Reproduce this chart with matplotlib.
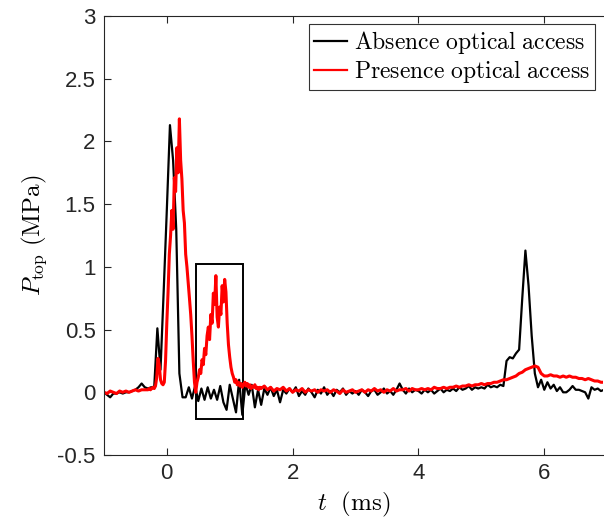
import numpy as np
import matplotlib
matplotlib.use('Agg')
import matplotlib.pyplot as plt
from matplotlib.patches import Rectangle

plt.rcParams['mathtext.fontset'] = 'cm'
plt.rcParams['axes.unicode_minus'] = False
plt.rcParams['font.family'] = ['Liberation Sans', 'DejaVu Sans']

# absence optical access, sampled every 0.05 ms from -1 ms
t0_black = -1.0
dt_black = 0.05
p_black = [
    0.00, -0.02, -0.04, -0.01, -0.01, 0.00, -0.01, 0.00, 0.00, 0.01,
    0.02, 0.04, 0.07, 0.04, 0.03, 0.04, 0.04, 0.51, 0.18, 0.80,
    1.45, 2.13, 1.85, 1.30, 0.15, -0.04, -0.04, 0.04, -0.05, 0.05,
    -0.07, 0.03, -0.06, 0.04, -0.05, 0.02, -0.06, 0.05, -0.08, -0.14,
    0.06, -0.05, -0.16, 0.10, -0.18, 0.07, -0.02, 0.06, -0.12, 0.02,
    -0.10, 0.03, -0.02, 0.04, -0.03, 0.02, -0.08, 0.02, -0.01, 0.03,
    0.00, 0.04, -0.03, 0.01, -0.02, 0.03, 0.00, -0.04, 0.02, -0.01,
    0.04, -0.02, 0.01, -0.03, 0.02, 0.00, 0.03, -0.02, 0.01, -0.01,
    0.01, -0.02, 0.02, 0.00, -0.03, 0.01, 0.02, -0.02, 0.00, 0.03,
    -0.01, 0.01, -0.02, 0.02, 0.07, 0.02, -0.01, 0.03, 0.00, 0.02,
    0.01, -0.01, 0.02, 0.00, 0.02, -0.01, 0.01, 0.03, 0.00, 0.02,
    0.01, 0.03, 0.01, 0.04, 0.02, 0.03, 0.05, 0.02, 0.04, 0.03,
    0.04, 0.03, 0.06, 0.04, 0.05, 0.04, 0.06, 0.05, 0.25, 0.28,
    0.27, 0.31, 0.34, 0.75, 1.13, 0.85, 0.45, 0.15, 0.04, 0.10,
    0.02, 0.08, 0.03, 0.06, 0.01, 0.04, 0.00, 0.00, 0.02, 0.05,
    0.02, 0.02, 0.01, 0.00, -0.05, 0.04, 0.02, 0.03, 0.01, 0.02,
]

# presence optical access: coarse start, fine burst (0.02 ms), coarse tail
t0_red_early = -1.0
red_early = [0.00, -0.01, 0.01, 0.00, -0.01, 0.01, 0.00, 0.01, 0.00, 0.01,
             0.02, 0.01, 0.02, 0.02]
t0_red_burst = -0.30
red_burst = [
    0.02, 0.03, 0.02, 0.03, 0.04, 0.03, 0.05, 0.12, 0.27, 0.22,
    0.10, 0.07, 0.06, 0.08, 0.25, 0.55, 0.80, 1.10, 1.25, 1.45,
    1.30, 1.71, 1.60, 1.95, 1.75, 2.18, 1.85, 1.70, 1.45, 1.35,
    1.10, 1.00, 0.88, 0.75, 0.62, 0.45, 0.25, 0.08, 0.00, 0.08,
    0.12, 0.18, 0.15, 0.26, 0.22, 0.35, 0.30, 0.45, 0.52, 0.42,
    0.62, 0.55, 0.79, 0.70, 0.93, 0.60, 0.52, 0.68, 0.62, 0.85,
    0.72, 0.90, 0.80, 0.55, 0.38, 0.28, 0.20, 0.15, 0.12, 0.08,
    0.10, 0.06, 0.08, 0.05, 0.07, 0.04, 0.06, 0.08, 0.05, 0.07,
    0.04, 0.06, 0.03, 0.05, 0.04, 0.06, 0.03, 0.04, 0.02, 0.04,
]
t0_red_late = 1.50
red_late = [
    0.03, 0.05, 0.02, 0.04, 0.01, 0.03, 0.02, 0.04, 0.01, 0.03,
    0.00, 0.02, 0.01, 0.03, 0.00, 0.02, 0.01, 0.02, 0.00, 0.02,
    0.01, 0.02, 0.00, 0.02, 0.01, -0.01, 0.02, 0.00, 0.01, 0.02,
    0.00, 0.01, 0.02, 0.00, 0.02, 0.01, 0.03, 0.01, 0.02, 0.00,
    0.02, 0.01, 0.03, 0.01, 0.02, 0.02, 0.03, 0.01, 0.03, 0.02,
    0.02, 0.03, 0.02, 0.03, 0.02, 0.04, 0.03, 0.03, 0.04, 0.03,
    0.04, 0.04, 0.05, 0.04, 0.05, 0.05, 0.06, 0.05, 0.06, 0.06,
    0.07, 0.06, 0.07, 0.07, 0.08, 0.08, 0.09, 0.10, 0.10, 0.11,
    0.12, 0.13, 0.15, 0.16, 0.18, 0.19, 0.20, 0.21, 0.20, 0.15,
    0.13, 0.13, 0.14, 0.13, 0.13, 0.12, 0.13, 0.12, 0.13, 0.12,
    0.12, 0.11, 0.11, 0.10, 0.11, 0.10, 0.09, 0.09, 0.08, 0.08,
]

# highlighted window (ms, MPa)
box_t = [0.46, 1.21]
box_p = [-0.21, 1.02]

yticks = [-0.5, 0, 0.5, 1, 1.5, 2, 2.5, 3]
xticks = [0, 2, 4, 6]

t_black = t0_black + dt_black * np.arange(len(p_black))
t_red = np.concatenate([
    t0_red_early + 0.05 * np.arange(len(red_early)),
    t0_red_burst + 0.02 * np.arange(len(red_burst)),
    t0_red_late + 0.05 * np.arange(len(red_late)),
])
p_red = np.concatenate([red_early, red_burst, red_late])

fig = plt.figure(figsize=(6.04, 5.30), dpi=100)
ax = fig.add_axes([0.172, 0.1415, 0.826, 0.8283])

ax.plot(t_black, p_black, color='k', lw=1.6,
        label=r'$\mathrm{Absence\ optical\ access}$')
ax.plot(t_red, p_red, color='r', lw=2.2,
        label=r'$\mathrm{Presence\ optical\ access}$')
ax.add_patch(Rectangle((box_t[0], box_p[0]), box_t[1] - box_t[0], box_p[1] - box_p[0],
                       fill=False, ec='k', lw=1.4))

ax.set_xlim(-1, 6.93)
ax.set_ylim(-0.5, 3)
ax.set_xticks(xticks)
ax.set_yticks(yticks)
ax.set_yticklabels(['-0.5', '0', '0.5', '1', '1.5', '2', '2.5', '3'])
ax.tick_params(direction='in', length=5, width=0.8, labelsize=16,
               colors='#262626', top=True, right=False, pad=6)
for s in ['left', 'top', 'bottom']:
    ax.spines[s].set_color('#262626')
    ax.spines[s].set_linewidth(0.8)
ax.spines['right'].set_visible(False)

ax.set_xlabel(r'$t\ \ \mathrm{(ms)}$', fontsize=18, labelpad=4)
ax.set_ylabel(r'$P_{\mathrm{top}}\ \mathrm{(MPa)}$', fontsize=18, labelpad=6)

leg = ax.legend(loc='upper right', fontsize=17, frameon=True, fancybox=False,
                edgecolor='k', handlelength=1.4, handletextpad=0.3,
                borderpad=0.2, labelspacing=0.1, borderaxespad=0.35)
leg.get_frame().set_linewidth(0.8)
leg.get_lines()[1].set_linewidth(1.6)

fig.savefig('out.png', dpi=100)
